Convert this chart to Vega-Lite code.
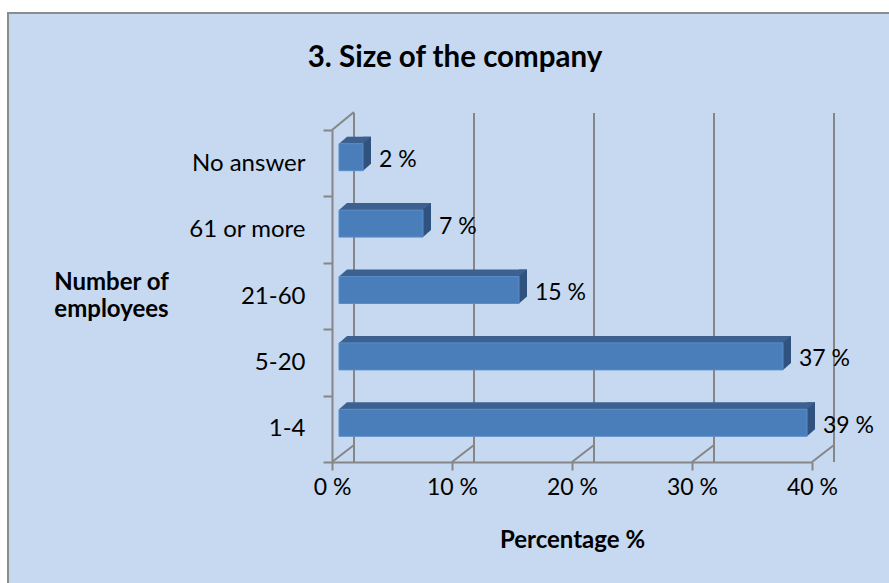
{
  "$schema": "https://vega.github.io/schema/vega-lite/v6.json",
  "autosize": {"type": "none"},
  "width": 480,
  "height": 332,
  "padding": {"left": 332, "top": 130, "right": 77, "bottom": 121},
  "background": "white",
  "title": {
    "text": "3. Size of the company",
    "font": "Lato",
    "fontSize": 29.5,
    "fontWeight": "bold",
    "color": "black",
    "anchor": "middle",
    "dx": -117,
    "offset": -61
  },
  "config": {
    "view": {"stroke": null},
    "axis": {"grid": false}
  },
  "datasets": {
    "bars": [
      {"size": "No answer", "pct": 2, "label": "2 %"},
      {"size": "61 or more", "pct": 7, "label": "7 %"},
      {"size": "21-60", "pct": 15, "label": "15 %"},
      {"size": "5-20", "pct": 37, "label": "37 %"},
      {"size": "1-4", "pct": 39, "label": "39 %"}
    ],
    "ticks": [{"pct": 0}, {"pct": 10}, {"pct": 20}, {"pct": 30}, {"pct": 40}]
  },
  "layer": [
    {
      "data": {"values": [{}]},
      "mark": {"type": "rect", "fill": "#C6D9F0", "stroke": "#8C8C8C", "strokeWidth": 2},
      "encoding": {
        "x": {"value": -324},
        "x2": {"value": 700},
        "y": {"value": -117},
        "y2": {"value": 600}
      }
    },
    {
      "data": {"name": "ticks"},
      "mark": {"type": "rule", "color": "#868686", "strokeWidth": 2, "xOffset": 22, "yOffset": -17, "y2Offset": -18},
      "encoding": {
        "x": {"field": "pct", "type": "quantitative", "scale": {"domain": [0, 40], "nice": false}}
      }
    },
    {
      "data": {"name": "ticks"},
      "mark": {"type": "point", "shape": "M0,166L22,149", "size": 4, "filled": false, "stroke": "#868686", "strokeWidth": 2, "opacity": 1},
      "encoding": {
        "x": {"field": "pct", "type": "quantitative"}
      }
    },
    {
      "data": {"values": [{"pct": 0}]},
      "mark": {"type": "point", "shape": "M0,-166L22,-184", "size": 4, "filled": false, "stroke": "#868686", "strokeWidth": 2, "opacity": 1},
      "encoding": {
        "x": {"field": "pct", "type": "quantitative"}
      }
    },
    {
      "data": {"name": "bars"},
      "mark": {"type": "bar", "color": "#3C6191", "size": 7, "xOffset": 15, "x2Offset": 7, "yOffset": -23},
      "encoding": {
        "y": {"field": "size", "type": "nominal", "sort": null, "scale": {"paddingInner": 0, "paddingOuter": 0},
          "axis": {
            "zindex": 1,
            "tickBand": "extent",
            "domainColor": "#868686", "domainWidth": 2,
            "tickColor": "#868686", "tickWidth": 2, "tickSize": 9,
            "labelFont": "Lato", "labelFontSize": 24, "labelColor": "black", "labelPadding": 18,
            "title": ["Number of", "employees"],
            "titleFont": "Lato", "titleFontSize": 24, "titleFontWeight": "bold", "titleColor": "black",
            "titleAngle": 0, "titleAlign": "center", "titleBaseline": "middle",
            "titleX": -221, "titleY": 152, "titleLineHeight": 27
          }
        },
        "x": {"field": "pct", "type": "quantitative",
          "axis": {
            "zindex": 1,
            "values": [0, 10, 20, 30, 40],
            "labelExpr": "datum.value + ' %'",
            "labelFlush": false,
            "domainColor": "#868686", "domainWidth": 2,
            "tickColor": "#868686", "tickWidth": 2, "tickSize": 8,
            "labelFont": "Lato", "labelFontSize": 23, "labelColor": "black", "labelPadding": 6,
            "title": "Percentage %",
            "titleFont": "Lato", "titleFontSize": 24, "titleFontWeight": "bold", "titleColor": "black",
            "titlePadding": 29
          }
        }
      }
    },
    {
      "data": {"name": "bars"},
      "mark": {"type": "point", "shape": "M7,-19.5L15,-26.5L15,-19.5Z", "size": 4, "filled": true, "fill": "#3C6191", "strokeWidth": 0, "opacity": 1},
      "encoding": {
        "x": {"datum": 0, "type": "quantitative"},
        "y": {"field": "size", "type": "nominal", "sort": null}
      }
    },
    {
      "data": {"name": "bars"},
      "mark": {"type": "point", "shape": "M7,-19.5L15,-26.5L7,-26.5Z", "size": 4, "filled": true, "fill": "#3C6191", "strokeWidth": 0, "opacity": 1},
      "encoding": {
        "x": {"field": "pct", "type": "quantitative"},
        "y": {"field": "size", "type": "nominal", "sort": null}
      }
    },
    {
      "data": {"name": "bars"},
      "mark": {"type": "point", "shape": "M7,-19.5L15,-26.5L15,0.5L7,7.5Z", "size": 4, "filled": true, "fill": "#30527F", "strokeWidth": 0, "opacity": 1},
      "encoding": {
        "x": {"field": "pct", "type": "quantitative"},
        "y": {"field": "size", "type": "nominal", "sort": null}
      }
    },
    {
      "data": {"name": "bars"},
      "mark": {"type": "bar", "color": "#4A7EBB", "size": 27, "xOffset": 7, "x2Offset": 7, "yOffset": -6, "stroke": "#5B8CC6", "strokeWidth": 1},
      "encoding": {
        "x": {"field": "pct", "type": "quantitative"},
        "y": {"field": "size", "type": "nominal", "sort": null}
      }
    },
    {
      "data": {"name": "bars"},
      "mark": {"type": "text", "align": "left", "baseline": "middle", "font": "Lato", "fontSize": 23, "color": "black", "xOffset": 23, "yOffset": -3},
      "encoding": {
        "x": {"field": "pct", "type": "quantitative"},
        "y": {"field": "size", "type": "nominal", "sort": null},
        "text": {"field": "label"}
      }
    }
  ]
}
